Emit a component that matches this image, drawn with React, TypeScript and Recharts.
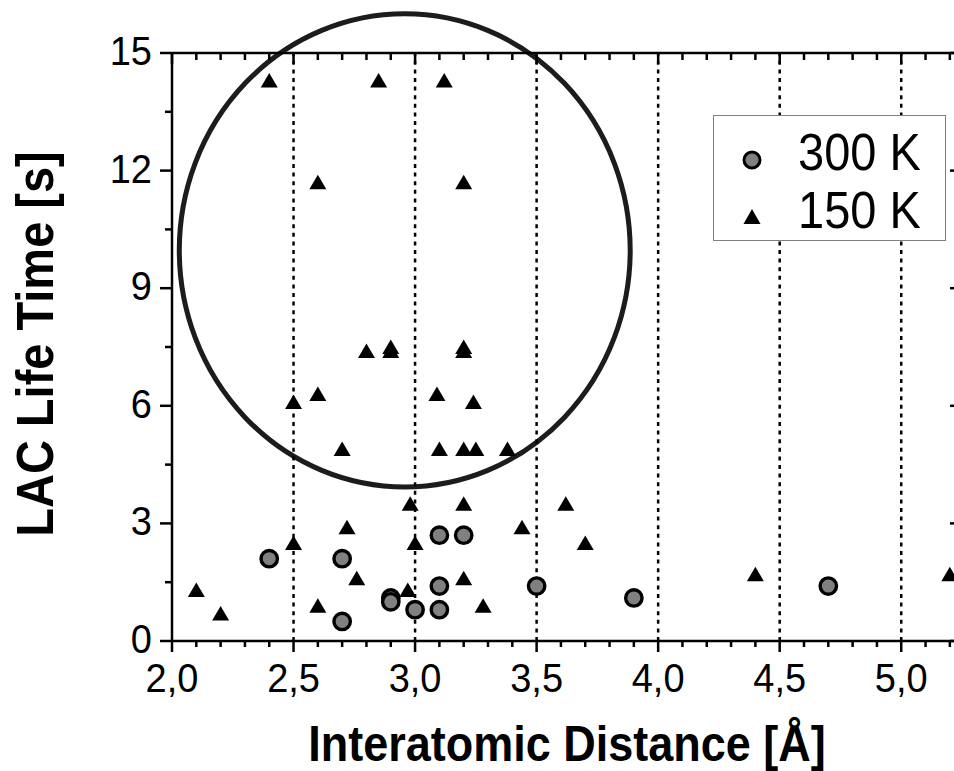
import React from 'react'
import {
  ScatterChart, Scatter, XAxis, YAxis, ReferenceLine, ReferenceArea, Legend,
} from 'recharts'

const FONT = '"Liberation Sans", Arial, Helvetica, sans-serif'

// LAC life time vs interatomic distance, two temperatures
const k300 = [
  { x: 2.4, y: 2.1 }, { x: 2.7, y: 2.1 }, { x: 2.7, y: 0.5 },
  { x: 2.9, y: 1.1 }, { x: 2.9, y: 1.0 }, { x: 3.0, y: 0.8 },
  { x: 3.1, y: 2.7 }, { x: 3.2, y: 2.7 }, { x: 3.1, y: 1.4 },
  { x: 3.1, y: 0.8 }, { x: 3.5, y: 1.4 }, { x: 3.9, y: 1.1 },
  { x: 4.7, y: 1.4 },
]

const k150Low = [
  { x: 2.1, y: 1.3 }, { x: 2.2, y: 0.7 }, { x: 2.5, y: 2.5 },
  { x: 2.6, y: 0.9 }, { x: 2.72, y: 2.9 }, { x: 2.76, y: 1.6 },
  { x: 2.97, y: 1.3 }, { x: 2.98, y: 3.5 }, { x: 3.0, y: 2.5 },
  { x: 3.2, y: 3.5 }, { x: 3.2, y: 1.6 }, { x: 3.28, y: 0.9 },
  { x: 3.44, y: 2.9 }, { x: 3.62, y: 3.5 }, { x: 3.7, y: 2.5 },
  { x: 4.4, y: 1.7 }, { x: 5.2, y: 1.7 },
]

const k150High = [
  { x: 2.4, y: 14.3 }, { x: 2.85, y: 14.3 }, { x: 3.12, y: 14.3 },
  { x: 2.6, y: 11.7 }, { x: 3.2, y: 11.7 },
  { x: 2.8, y: 7.4 }, { x: 2.9, y: 7.5 }, { x: 2.9, y: 7.4 },
  { x: 3.2, y: 7.5 }, { x: 3.2, y: 7.4 },
  { x: 2.5, y: 6.1 }, { x: 2.6, y: 6.3 }, { x: 3.09, y: 6.3 }, { x: 3.24, y: 6.1 },
  { x: 2.7, y: 4.9 }, { x: 3.1, y: 4.9 }, { x: 3.2, y: 4.9 },
  { x: 3.25, y: 4.9 }, { x: 3.38, y: 4.9 },
]

const k150 = [...k150Low, ...k150High]

const seriesOrder = ['300 K', '150 K']
const xDomain = [2, 5.25]
const yDomain = [0, 15]
const xMajor = [2.0, 2.5, 3.0, 3.5, 4.0, 4.5, 5.0]
const xTicks = Array.from({ length: 33 }, (_, i) => Math.round((2 + i * 0.1) * 10) / 10)
const yMajor = [0, 3, 6, 9, 12, 15]
const yTicks = [0, 1.5, 3, 4.5, 6, 7.5, 9, 10.5, 12, 13.5, 15]
const gridX = [2.5, 3.0, 3.5, 4.0, 4.5, 5.0]

// bounds of the ring drawn round the long-lived group
const ring = { x1: 2.03, x2: 3.885, y1: 3.93, y2: 16.0 }

const isMajor = (v: number, list: number[]) => list.some((m) => Math.abs(m - v) < 1e-6)
const fmt = (v: number) => v.toFixed(1).replace('.', ',')

const BottomTick = ({ x, y, payload }: any) => {
  const major = isMajor(payload.value, xMajor)
  return (
    <g>
      <line x1={x} x2={x} y1={y} y2={y + (major ? 11 : 6)} stroke="#000" strokeWidth={2.5} />
      {major && (
        <text transform={`translate(${x}, ${y + 51}) scale(1, 1.08)`} textAnchor="middle"
          fontSize={38} fontFamily={FONT} fill="#000">
          {fmt(payload.value)}
        </text>
      )}
    </g>
  )
}

const TopTick = ({ x, y, payload }: any) => {
  const major = isMajor(payload.value, xMajor)
  return <line x1={x} x2={x} y1={y} y2={y + (major ? 11 : 7)} stroke="#000" strokeWidth={2.5} />
}

const LeftTick = ({ x, y, payload }: any) => {
  const major = isMajor(payload.value, yMajor)
  return (
    <g>
      <line x1={x - (major ? 12 : 7)} x2={x} y1={y} y2={y} stroke="#000" strokeWidth={2.5} />
      {major && (
        <text transform={`translate(${x - 20}, ${y + 12}) scale(1, 1.08)`} textAnchor="end"
          fontSize={38} fontFamily={FONT} fill="#000">
          {payload.value}
        </text>
      )}
    </g>
  )
}

const RightTick = ({ x, y, payload }: any) => {
  const major = isMajor(payload.value, yMajor)
  return <line x1={x - (major ? 12 : 7)} x2={x} y1={y} y2={y} stroke="#000" strokeWidth={2.5} />
}

const XTitle = ({ viewBox }: any) => {
  const vb = viewBox || { x: 172, y: 641, width: 790, height: 130 }
  return (
    <text transform={`translate(${vb.x + vb.width / 2}, ${vb.y + vb.height - 10}) scale(1, 1.12)`}
      textAnchor="middle" fontSize={45} fontWeight="bold" fontFamily={FONT} fill="#000">
      Interatomic Distance [Å]
    </text>
  )
}

const YTitle = ({ viewBox }: any) => {
  const vb = viewBox || { x: 0, y: 53, width: 172, height: 588 }
  const cy = vb.y + vb.height / 2 - 3
  return (
    <text transform={`translate(53, ${cy}) rotate(-90) scale(1, 1.1)`} textAnchor="middle"
      fontSize={47} fontWeight="bold" fontFamily={FONT} fill="#000">
      LAC Life Time [s]
    </text>
  )
}

const CircleDot = ({ cx, cy }: any) => (
  <circle cx={cx} cy={cy} r={8.2} fill="#808080" stroke="#000" strokeWidth={3.4} />
)

const TriangleDot = ({ cx, cy }: any) => (
  <polygon points={`${cx},${cy - 7.5} ${cx - 8.5},${cy + 7} ${cx + 8.5},${cy + 7}`} fill="#000" />
)

const Ring = ({ x, y, width, height }: any) => (
  <ellipse cx={x + width / 2} cy={y + Math.abs(height) / 2}
    rx={Math.abs(width) / 2} ry={Math.abs(height) / 2}
    fill="none" stroke="#1c1c1c" strokeWidth={5} />
)

const LegendBox = ({ payload }: any) => {
  const items = [...(payload || [])].sort(
    (a: any, b: any) => seriesOrder.indexOf(a.value) - seriesOrder.indexOf(b.value),
  )
  return (
    <div style={{ width: 233, height: 126, border: '1px solid #808080', background: '#fff', boxSizing: 'border-box' }}>
      <svg width={231} height={124} style={{ display: 'block' }}>
        {items.map((p: any, i: number) => {
          const cy = 44 + i * 57
          return (
            <g key={p.value}>
              {p.type === 'circle'
                ? <circle cx={38} cy={cy} r={8} fill="#808080" stroke="#000" strokeWidth={3} />
                : <polygon points={`38,${cy - 8} 29.5,${cy + 7} 46.5,${cy + 7}`} fill="#000" />}
              <text transform={`translate(84, ${cy + 10 + i}) scale(1, 1.12)`}
                fontSize={47} fontFamily={FONT} fill="#000">{p.value}</text>
            </g>
          )
        })}
      </svg>
    </div>
  )
}

export default function App() {
  return (
    <div style={{ position: 'absolute', left: 0, top: 0, width: 954, height: 771, overflow: 'hidden', background: '#fff' }}>
      <ScatterChart width={1000} height={771} margin={{ top: 52, right: 37, bottom: 0, left: 0 }}
        style={{ fontFamily: FONT }}>
        <XAxis xAxisId="b" dataKey="x" type="number" domain={xDomain} ticks={xTicks} interval={0}
          allowDataOverflow orientation="bottom" height={130} tickSize={0} tickMargin={0} tickLine={false}
          axisLine={{ stroke: '#000', strokeWidth: 2.5 }} tick={<BottomTick />} label={<XTitle />} />
        <XAxis xAxisId="t" dataKey="x" type="number" domain={xDomain} ticks={xTicks} interval={0}
          allowDataOverflow orientation="top" height={1} tickSize={0} tickMargin={0} tickLine={false}
          axisLine={{ stroke: '#000', strokeWidth: 2.5 }} tick={<TopTick />} />
        <YAxis yAxisId="l" dataKey="y" type="number" domain={yDomain} ticks={yTicks} interval={0}
          allowDataOverflow orientation="left" width={172} tickSize={0} tickMargin={0} tickLine={false}
          axisLine={{ stroke: '#000', strokeWidth: 2.5 }} tick={<LeftTick />} label={<YTitle />} />
        <YAxis yAxisId="r" dataKey="y" type="number" domain={yDomain} ticks={yTicks} interval={0}
          allowDataOverflow orientation="right" width={1} tickSize={0} tickMargin={0} tickLine={false}
          axisLine={{ stroke: '#000', strokeWidth: 2.5 }} tick={<RightTick />} />
        {gridX.map((v) => (
          <ReferenceLine key={v} x={v} xAxisId="b" yAxisId="l" stroke="#000" strokeWidth={2.5} strokeDasharray="4 4.6" />
        ))}
        <ReferenceArea xAxisId="b" yAxisId="l" x1={ring.x1} x2={ring.x2} y1={ring.y1} y2={ring.y2}
          ifOverflow="visible" shape={Ring} />
        <Scatter name="300 K" data={k300} xAxisId="b" yAxisId="l" legendType="circle"
          shape={CircleDot} isAnimationActive={false} />
        <Scatter name="150 K" data={k150} xAxisId="b" yAxisId="l" legendType="triangle"
          shape={TriangleDot} isAnimationActive={false} />
        <Legend layout="horizontal" verticalAlign="middle" align="center" content={<LegendBox />}
          wrapperStyle={{ position: 'absolute', left: 713, top: 115, width: 233, height: 126 }} />
      </ScatterChart>
    </div>
  )
}
